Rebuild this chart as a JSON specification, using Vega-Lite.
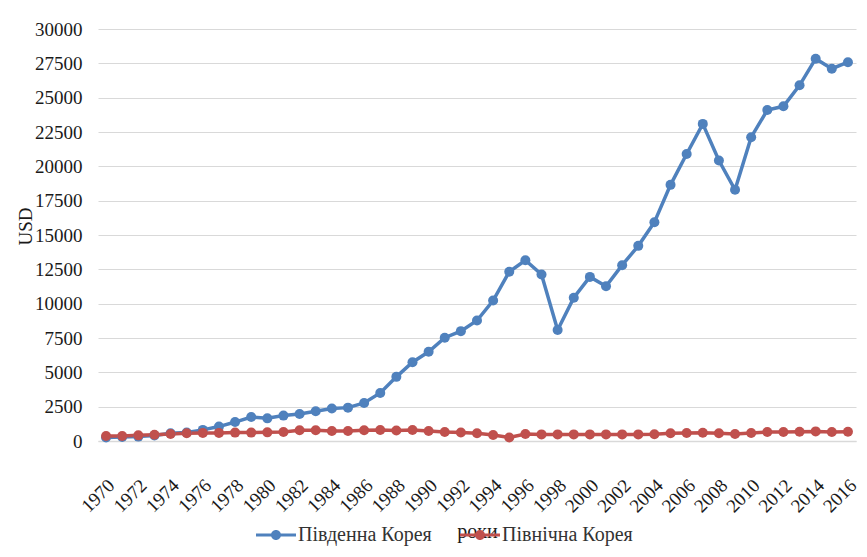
{
  "$schema": "https://vega.github.io/schema/vega-lite/v6.json",
  "width": 758,
  "height": 412,
  "autosize": {"type": "none"},
  "padding": {"left": 98, "top": 29, "right": 11, "bottom": 116},
  "background": "white",
  "config": {"view": {"stroke": null}, "font": "Liberation Serif", "axis": {"labelFont": "Liberation Serif", "titleFont": "Liberation Serif"}, "legend": {"labelFont": "Liberation Serif"}},
  "data": {"values": [
    {"year": 1970, "country": "Південна Корея", "gdp": 260},
    {"year": 1971, "country": "Південна Корея", "gdp": 290},
    {"year": 1972, "country": "Південна Корея", "gdp": 320},
    {"year": 1973, "country": "Південна Корея", "gdp": 400},
    {"year": 1974, "country": "Південна Корея", "gdp": 560},
    {"year": 1975, "country": "Південна Корея", "gdp": 620},
    {"year": 1976, "country": "Південна Корея", "gdp": 810},
    {"year": 1977, "country": "Південна Корея", "gdp": 1050},
    {"year": 1978, "country": "Південна Корея", "gdp": 1380},
    {"year": 1979, "country": "Південна Корея", "gdp": 1750},
    {"year": 1980, "country": "Південна Корея", "gdp": 1650},
    {"year": 1981, "country": "Південна Корея", "gdp": 1850},
    {"year": 1982, "country": "Південна Корея", "gdp": 1960},
    {"year": 1983, "country": "Південна Корея", "gdp": 2160},
    {"year": 1984, "country": "Південна Корея", "gdp": 2360},
    {"year": 1985, "country": "Південна Корея", "gdp": 2430},
    {"year": 1986, "country": "Південна Корея", "gdp": 2770},
    {"year": 1987, "country": "Південна Корея", "gdp": 3500},
    {"year": 1988, "country": "Південна Корея", "gdp": 4670},
    {"year": 1989, "country": "Південна Корея", "gdp": 5740},
    {"year": 1990, "country": "Південна Корея", "gdp": 6500},
    {"year": 1991, "country": "Південна Корея", "gdp": 7520},
    {"year": 1992, "country": "Південна Корея", "gdp": 8000},
    {"year": 1993, "country": "Південна Корея", "gdp": 8770},
    {"year": 1994, "country": "Південна Корея", "gdp": 10230},
    {"year": 1995, "country": "Південна Корея", "gdp": 12320},
    {"year": 1996, "country": "Південна Корея", "gdp": 13160},
    {"year": 1997, "country": "Південна Корея", "gdp": 12130},
    {"year": 1998, "country": "Південна Корея", "gdp": 8080},
    {"year": 1999, "country": "Південна Корея", "gdp": 10430},
    {"year": 2000, "country": "Південна Корея", "gdp": 11950},
    {"year": 2001, "country": "Південна Корея", "gdp": 11270},
    {"year": 2002, "country": "Південна Корея", "gdp": 12800},
    {"year": 2003, "country": "Південна Корея", "gdp": 14210},
    {"year": 2004, "country": "Південна Корея", "gdp": 15930},
    {"year": 2005, "country": "Південна Корея", "gdp": 18650},
    {"year": 2006, "country": "Південна Корея", "gdp": 20900},
    {"year": 2007, "country": "Південна Корея", "gdp": 23090},
    {"year": 2008, "country": "Південна Корея", "gdp": 20420},
    {"year": 2009, "country": "Південна Корея", "gdp": 18290},
    {"year": 2010, "country": "Південна Корея", "gdp": 22120},
    {"year": 2011, "country": "Південна Корея", "gdp": 24100},
    {"year": 2012, "country": "Південна Корея", "gdp": 24370},
    {"year": 2013, "country": "Південна Корея", "gdp": 25900},
    {"year": 2014, "country": "Південна Корея", "gdp": 27840},
    {"year": 2015, "country": "Південна Корея", "gdp": 27110},
    {"year": 2016, "country": "Південна Корея", "gdp": 27580},
    {"year": 1970, "country": "Північна Корея", "gdp": 370},
    {"year": 1971, "country": "Північна Корея", "gdp": 370},
    {"year": 1972, "country": "Північна Корея", "gdp": 410},
    {"year": 1973, "country": "Північна Корея", "gdp": 460},
    {"year": 1974, "country": "Північна Корея", "gdp": 510},
    {"year": 1975, "country": "Північна Корея", "gdp": 560},
    {"year": 1976, "country": "Північна Корея", "gdp": 590},
    {"year": 1977, "country": "Північна Корея", "gdp": 590},
    {"year": 1978, "country": "Північна Корея", "gdp": 610},
    {"year": 1979, "country": "Північна Корея", "gdp": 610},
    {"year": 1980, "country": "Північна Корея", "gdp": 630},
    {"year": 1981, "country": "Північна Корея", "gdp": 660},
    {"year": 1982, "country": "Північна Корея", "gdp": 780},
    {"year": 1983, "country": "Північна Корея", "gdp": 780},
    {"year": 1984, "country": "Північна Корея", "gdp": 730},
    {"year": 1985, "country": "Північна Корея", "gdp": 730},
    {"year": 1986, "country": "Північна Корея", "gdp": 780},
    {"year": 1987, "country": "Північна Корея", "gdp": 800},
    {"year": 1988, "country": "Північна Корея", "gdp": 760},
    {"year": 1989, "country": "Північна Корея", "gdp": 800},
    {"year": 1990, "country": "Північна Корея", "gdp": 730},
    {"year": 1991, "country": "Північна Корея", "gdp": 660},
    {"year": 1992, "country": "Північна Корея", "gdp": 620},
    {"year": 1993, "country": "Північна Корея", "gdp": 560},
    {"year": 1994, "country": "Північна Корея", "gdp": 440},
    {"year": 1995, "country": "Північна Корея", "gdp": 250},
    {"year": 1996, "country": "Північна Корея", "gdp": 510},
    {"year": 1997, "country": "Північна Корея", "gdp": 480},
    {"year": 1998, "country": "Північна Корея", "gdp": 480},
    {"year": 1999, "country": "Північна Корея", "gdp": 480},
    {"year": 2000, "country": "Північна Корея", "gdp": 480},
    {"year": 2001, "country": "Північна Корея", "gdp": 480},
    {"year": 2002, "country": "Північна Корея", "gdp": 480},
    {"year": 2003, "country": "Північна Корея", "gdp": 480},
    {"year": 2004, "country": "Північна Корея", "gdp": 490},
    {"year": 2005, "country": "Північна Корея", "gdp": 560},
    {"year": 2006, "country": "Північна Корея", "gdp": 580},
    {"year": 2007, "country": "Північна Корея", "gdp": 600},
    {"year": 2008, "country": "Північна Корея", "gdp": 560},
    {"year": 2009, "country": "Північна Корея", "gdp": 510},
    {"year": 2010, "country": "Північна Корея", "gdp": 580},
    {"year": 2011, "country": "Північна Корея", "gdp": 650},
    {"year": 2012, "country": "Північна Корея", "gdp": 650},
    {"year": 2013, "country": "Північна Корея", "gdp": 680},
    {"year": 2014, "country": "Північна Корея", "gdp": 700},
    {"year": 2015, "country": "Північна Корея", "gdp": 650},
    {"year": 2016, "country": "Північна Корея", "gdp": 680}
  ]},
  "mark": {"type": "line", "strokeWidth": 3.5, "point": {"filled": true, "size": 100, "opacity": 1}},
  "encoding": {
    "x": {
      "field": "year", "type": "quantitative",
      "scale": {"domain": [1969.5, 2016.5], "nice": false, "zero": false},
      "axis": {
        "values": [1970, 1972, 1974, 1976, 1978, 1980, 1982, 1984, 1986, 1988, 1990, 1992, 1994, 1996, 1998, 2000, 2002, 2004, 2006, 2008, 2010, 2012, 2014, 2016],
        "format": "d", "labelAngle": -45, "labelAlign": "right", "labelBaseline": "middle",
        "labelFontSize": 19, "labelColor": "#1a1a1a",
        "labelPadding": 41, "labelOffset": 5, "labelOverlap": false, "labelFlush": false,
        "ticks": false, "grid": false, "domainColor": "#d9d9d9", "domainWidth": 1.5,
        "title": "роки", "titleFontSize": 20, "titleFontWeight": "normal",
        "titleColor": "#1a1a1a", "titleY": 96, "titleBaseline": "alphabetic"
      }
    },
    "y": {
      "field": "gdp", "type": "quantitative",
      "scale": {"domain": [0, 30000], "nice": false},
      "axis": {
        "values": [0, 2500, 5000, 7500, 10000, 12500, 15000, 17500, 20000, 22500, 25000, 27500, 30000],
        "format": "d", "labelFontSize": 19, "labelColor": "#1a1a1a",
        "labelPadding": 16, "labelFlush": false, "labelOverlap": false,
        "ticks": false, "domain": false, "gridColor": "#d9d9d9", "gridWidth": 1.2,
        "title": "USD", "titleFontSize": 19, "titleFontWeight": "normal",
        "titleColor": "#1a1a1a", "titleAngle": -90, "titleX": -73, "titleY": 197, "titleBaseline": "middle", "titleAlign": "center"
      }
    },
    "color": {
      "field": "country", "type": "nominal",
      "scale": {"domain": ["Південна Корея", "Північна Корея"], "range": ["#4f81bd", "#c0504d"]},
      "legend": {
        "orient": "none", "legendX": 158, "legendY": 486, "direction": "horizontal", "title": null,
        "labelFontSize": 20, "labelColor": "#333333", "labelOffset": 2,
        "columnPadding": 28,
        "symbolType": "M-1,-0.08H1V0.08H-1Z M0.25,0A0.25,0.25 0 1,1 -0.25,0A0.25,0.25 0 1,1 0.25,0Z",
        "symbolSize": 1600, "symbolStrokeWidth": 0,
        "encode": {"symbols": {"update": {"fill": {"scale": "color", "field": "value"}, "opacity": {"value": 1}}}}
      }
    }
  }
}
